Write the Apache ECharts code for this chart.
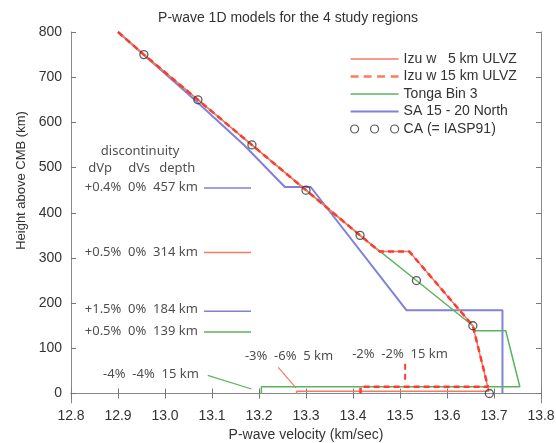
<!DOCTYPE html>
<html><head><meta charset="utf-8">
<script src="https://cdn.jsdelivr.net/npm/echarts@6/dist/echarts.min.js"></script>
<style>html,body{margin:0;padding:0;background:#fff}#c{width:556px;height:443px}</style>
</head><body><div id="c"></div>
<script>
// ---- data ----
const seriesNames = ['Izu w   5 km ULVZ', 'Izu w 15 km ULVZ', 'Tonga Bin 3', 'SA 15 - 20 North', 'CA (= IASP91)'];
const caHeight = [750, 650, 550, 450, 350, 250, 150, 0];
const caVp = [12.955, 13.07, 13.185, 13.30, 13.415, 13.535, 13.655, 13.69];
const izu5Height = [800, 750, 650, 550, 450, 350, 314, 314, 150, 5, 5, 0];
const izu5Vp = [12.90, 12.955, 13.07, 13.185, 13.30, 13.415, 13.457, 13.52, 13.655, 13.689, 13.28, 13.28];
const izu15Height = [800, 750, 650, 550, 450, 350, 314, 314, 150, 15, 15, 0];
const izu15Vp = [12.90, 12.955, 13.07, 13.185, 13.30, 13.415, 13.457, 13.52, 13.655, 13.687, 13.416, 13.416];
const tongaHeight = [800, 750, 650, 550, 450, 350, 250, 150, 139, 139, 15, 15, 0];
const tongaVp = [12.90, 12.955, 13.07, 13.185, 13.30, 13.415, 13.535, 13.655, 13.66, 13.725, 13.755, 13.205, 13.205];
const saHeight = [800, 650, 550, 457, 457, 184, 184, 0];
const saVp = [12.90, 13.063, 13.168, 13.255, 13.31, 13.514, 13.718, 13.718];
const yTicks = [0, 100, 200, 300, 400, 500, 600, 700, 800];

// discontinuity annotation table
const discLabels = ['+0.4%  0%  457 km', '+0.5%  0%  314 km', '+1.5%  0%  184 km', '+0.5%  0%  139 km'];
const discLabelHeight = [456, 312, 186, 137];
const discMarkHeight = [455, 312, 182, 136];
const discMarkColor = ['#7f82d8', '#f47a68', '#7f82d8', '#5db35d'];
const headerTexts = ['discontinuity', 'dVp', 'dVs', 'depth'];
const headerVp = [12.947, 12.862, 12.945, 13.026];
const headerHeight = [536, 499, 499, 499];
const ulvzTexts = ['-4%  -4%  15 km', '-3%  -6%  5 km', '-2%  -2%  15 km'];

const zip = (xs, ys) => xs.map((x, i) => [x, ys[i]]);

const C_RED = '#ff3b2b', C_RED_L = '#f47a68', C_GREEN = '#5db35d', C_BLUE = '#7f82d8';
const labelFont = 'Liberation Sans, Arial, sans-serif';
const noteFont = 'Noto Sans, Open Sans, sans-serif';

function lineSeries(name, data, color, width, type, z) {
  return { name, type: 'line', data, symbol: 'none', z: z || 2, silent: true,
    lineStyle: { color, width, type: type || 'solid' }, itemStyle: { color }, animation: false };
}
function annoLine(data, color, width, type) {
  return { type: 'line', data, symbol: 'none', silent: true, z: 2,
    lineStyle: { color, width, type: type || 'solid' }, animation: false };
}

const series = [];
series.push(lineSeries(seriesNames[3], zip(saVp, saHeight), C_BLUE, 2, 'solid', 2));
series.push(lineSeries(seriesNames[2], zip(tongaVp, tongaHeight), C_GREEN, 1.5, 'solid', 3));
series.push(lineSeries(seriesNames[0], zip(izu5Vp, izu5Height), C_RED_L, 1.5, 'solid', 4));
series.push(lineSeries(seriesNames[1], zip(izu15Vp, izu15Height), C_RED, 2.5, [6, 4], 5));
series.push({ name: seriesNames[4], type: 'scatter', data: zip(caVp, caHeight), symbol: 'circle', symbolSize: 8, z: 6,
  itemStyle: { color: 'rgba(0,0,0,0)', borderColor: '#333', borderWidth: 1.3 }, silent: true, animation: false });

// marker lines beside the discontinuity table
discMarkHeight.forEach((h, i) => series.push(annoLine([[13.083, h], [13.183, h]], discMarkColor[i], 1.5)));
// leader lines
series.push(annoLine([[13.091, 40], [13.184, 10]], C_GREEN, 1.2));
series.push(annoLine([[13.241, 58], [13.279, 12]], C_RED_L, 1.2));
series.push(annoLine([[13.511, 66], [13.511, 22]], C_RED, 2, [6, 4]));

// text annotations (positioned in data coordinates)
const textData = [];
headerTexts.forEach((t, i) => textData.push({ value: [headerVp[i], headerHeight[i]], label: { formatter: t, position: 'inside', align: 'center' } }));
discLabels.forEach((t, i) => textData.push({ value: [13.070, discLabelHeight[i]], label: { formatter: t, position: 'left', distance: 0 } }));
textData.push({ value: [13.072, 42], label: { formatter: ulvzTexts[0], position: 'left', distance: 0 } });
textData.push({ value: [13.264, 82], label: { formatter: ulvzTexts[1], position: 'inside', align: 'center' } });
textData.push({ value: [13.50, 86], label: { formatter: ulvzTexts[2], position: 'inside', align: 'center' } });
series.push({ type: 'scatter', data: textData, symbolSize: 0, silent: true, z: 7, animation: false,
  label: { show: true, color: '#222', fontSize: 13, fontFamily: noteFont } });

const axisLineStyle = { color: '#8a8a8a', width: 1 };
const tickStyle = { color: '#777', width: 1 };

const iconSolid2 = 'path://M0,0H48V2H0Z';
const iconSolid15 = 'path://M0,0H48V1.5H0Z';
const iconDash = 'path://M0,0H8V2.5H0ZM13,0H21V2.5H13ZM26.5,0H34.5V2.5H26.5ZM40,0H48V2.5H40Z';
const iconCircles = 'path://M0,4a4,4 0 1,0 8,0a4,4 0 1,0 -8,0ZM20,4a4,4 0 1,0 8,0a4,4 0 1,0 -8,0ZM40,4a4,4 0 1,0 8,0a4,4 0 1,0 -8,0Z';

const option = {
  backgroundColor: '#fff',
  animation: false,
  title: { text: 'P-wave 1D models for the 4 study regions', left: 288, top: 11, padding: 0, textAlign: 'center',
    textStyle: { fontSize: 14, fontWeight: 'normal', color: '#333', fontFamily: labelFont } },
  legend: { orient: 'vertical', left: 350, top: 52, itemWidth: 48, itemHeight: 14, itemGap: 3.5, padding: 0,
    symbolKeepAspect: true,
    textStyle: { fontSize: 14, color: '#333', fontFamily: labelFont },
    data: [
      { name: seriesNames[0], icon: iconSolid15, itemStyle: { color: C_RED_L, borderWidth: 0 } },
      { name: seriesNames[1], icon: iconDash, itemStyle: { color: '#ff7a62', borderWidth: 0 } },
      { name: seriesNames[2], icon: iconSolid15, itemStyle: { color: C_GREEN, borderWidth: 0 } },
      { name: seriesNames[3], icon: iconSolid2, itemStyle: { color: C_BLUE, borderWidth: 0 } },
      { name: seriesNames[4], icon: iconCircles,
        itemStyle: { color: 'rgba(0,0,0,0)', borderColor: '#333', borderWidth: 1.2 } }
    ] },
  grid: { left: 71, right: 15, top: 32, bottom: 40, containLabel: false, outerBoundsMode: 'none' },
  xAxis: [
    { type: 'value', min: 12.8, max: 13.8, interval: 0.1, position: 'bottom',
      axisLine: { show: true, lineStyle: axisLineStyle }, splitLine: { show: false },
      axisTick: { show: true, inside: true, length: 5, lineStyle: tickStyle },
      axisLabel: { formatter: v => v.toFixed(1), fontSize: 14, color: '#333', margin: 6, fontFamily: labelFont },
      name: 'P-wave velocity (km/sec)', nameLocation: 'middle', nameGap: 25,
      nameTextStyle: { fontSize: 14, color: '#333', fontFamily: labelFont } },
    { type: 'value', min: 12.8, max: 13.8, interval: 0.1, position: 'top',
      axisLine: { show: true, lineStyle: axisLineStyle }, splitLine: { show: false },
      axisTick: { show: true, inside: true, length: 5, lineStyle: tickStyle }, axisLabel: { show: false } }
  ],
  yAxis: [
    { type: 'value', min: -21, max: 800, position: 'left',
      axisLine: { show: true, lineStyle: axisLineStyle }, splitLine: { show: false },
      axisTick: { show: true, inside: true, length: 5, lineStyle: tickStyle, customValues: yTicks },
      axisLabel: { customValues: yTicks, fontSize: 14, color: '#333', margin: 9, fontFamily: labelFont },
      name: 'Height above CMB (km)', nameLocation: 'middle', nameGap: 40,
      nameTextStyle: { fontSize: 13, color: '#333', fontFamily: labelFont, padding: [0, 0, 0, 74] } },
    { type: 'value', min: -21, max: 800, position: 'right',
      axisLine: { show: true, lineStyle: axisLineStyle }, splitLine: { show: false },
      axisTick: { show: true, inside: true, length: 5, lineStyle: tickStyle, customValues: yTicks },
      axisLabel: { show: false } }
  ],
  series
};
const chart = echarts.init(document.getElementById('c'), null, { renderer: 'canvas' });
chart.setOption(option);
</script>
</body></html>
